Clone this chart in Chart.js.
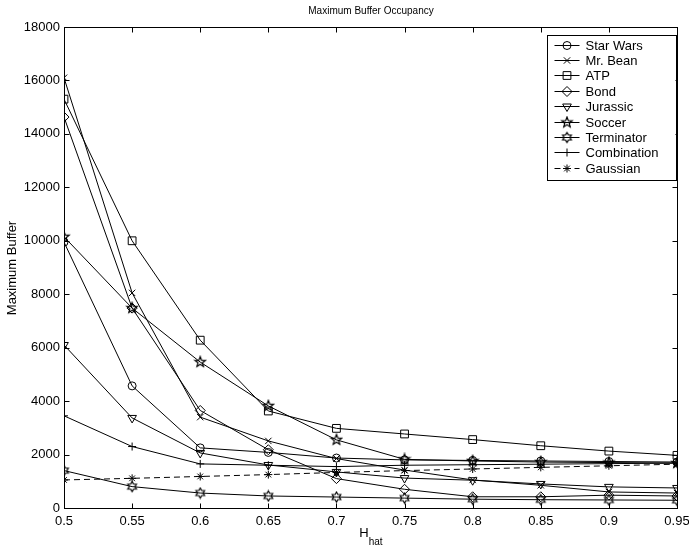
<!DOCTYPE html>
<html>
<head>
<meta charset="utf-8">
<script src="https://cdn.jsdelivr.net/npm/chart.js@4.4.0/dist/chart.umd.min.js"></script>
<style>
  html, body { margin: 0; padding: 0; background: #fff; }
  #wrap { width: 689px; height: 552px; }
</style>
</head>
<body>
<div id="wrap"><canvas id="chart"></canvas></div>
<script>
const hValues = [0.5, 0.55, 0.6, 0.65, 0.7, 0.75, 0.8, 0.85, 0.9, 0.95];
const xTickLabels = ['0.5', '0.55', '0.6', '0.65', '0.7', '0.75', '0.8', '0.85', '0.9', '0.95'];
const yTickValues = [0, 2000, 4000, 6000, 8000, 10000, 12000, 14000, 16000, 18000];
const yTickLabels = ['0', '2000', '4000', '6000', '8000', '10000', '12000', '14000', '16000', '18000'];

const seriesNames = ['Star Wars', 'Mr. Bean', 'ATP', 'Bond', 'Jurassic', 'Soccer', 'Terminator', 'Combination', 'Gaussian'];

const starWars    = [9950, 4570, 2250, 2080, 1870, 1800, 1780, 1760, 1740, 1720];
const mrBean      = [16100, 8050, 3400, 2510, 1850, 1420, 1050, 850, 600, 560];
const atp         = [15300, 10000, 6280, 3630, 2980, 2770, 2560, 2330, 2130, 1970];
const bond        = [14630, 7480, 3650, 2180, 1100, 700, 420, 420, 480, 450];
const jurassic    = [6100, 3370, 2060, 1610, 1350, 1120, 1040, 900, 790, 750];
const soccer      = [10150, 7480, 5460, 3820, 2550, 1820, 1760, 1720, 1700, 1680];
const terminator  = [1400, 800, 560, 450, 410, 370, 330, 310, 300, 290];
const combination = [3450, 2300, 1650, 1600, 1550, 1600, 1620, 1640, 1660, 1680];
const gaussian    = [1050, 1110, 1180, 1250, 1330, 1400, 1460, 1520, 1580, 1640];

const seriesValues = [starWars, mrBean, atp, bond, jurassic, soccer, terminator, combination, gaussian];

// outline star markers (matlab 'p' and 'h')
function starMarker(points, r, inner) {
  const size = Math.ceil(r * 2 + 3);
  const c = document.createElement('canvas');
  c.width = size; c.height = size;
  const g = c.getContext('2d');
  const cx = size / 2, cy = size / 2;
  g.beginPath();
  for (let i = 0; i < points * 2; i++) {
    const rad = i % 2 === 0 ? r : r * inner;
    const ang = -Math.PI / 2 + i * Math.PI / points;
    const px = cx + rad * Math.cos(ang), py = cy + rad * Math.sin(ang);
    if (i === 0) g.moveTo(px, py); else g.lineTo(px, py);
  }
  g.closePath();
  g.strokeStyle = '#000';
  g.lineWidth = 1.2;
  g.stroke();
  return c;
}

const pentagram = starMarker(5, 5.5, 0.42);
const hexagram = starMarker(6, 5, 0.58);

const markers = [
  { style: 'circle', radius: 4, rotation: 0 },
  { style: 'crossRot', radius: 4.5, rotation: 0 },
  { style: 'rect', radius: 5.5, rotation: 0 },
  { style: 'rectRot', radius: 5, rotation: 0 },
  { style: 'triangle', radius: 5, rotation: 180 },
  { style: pentagram, radius: 5, rotation: 0 },
  { style: hexagram, radius: 5, rotation: 0 },
  { style: 'cross', radius: 4, rotation: 0 },
  { style: 'star', radius: 4, rotation: 0 }
];

const datasets = seriesNames.map((name, i) => ({
  label: name,
  data: seriesValues[i].map((v, j) => ({ x: hValues[j], y: v })),
  borderColor: '#000',
  borderWidth: 1,
  borderDash: name === 'Gaussian' ? [6, 4] : [],
  backgroundColor: 'rgba(0,0,0,0)',
  pointStyle: markers[i].style,
  pointRadius: markers[i].radius,
  pointRotation: markers[i].rotation,
  pointBorderColor: '#000',
  pointBackgroundColor: 'rgba(0,0,0,0)',
  pointBorderWidth: 1,
  tension: 0
}));

const font = '"Liberation Sans", Arial, Helvetica, sans-serif';

const decorations = {
  id: 'decorations',
  afterDraw(chart) {
    const { ctx, chartArea: a, scales: { x, y } } = chart;
    const L = Math.round(a.left) + 0.5, R = Math.round(a.right) + 0.5;
    const T = Math.round(a.top) + 0.5, B = Math.round(a.bottom) + 0.5;
    ctx.save();
    ctx.strokeStyle = '#000';
    ctx.lineWidth = 1;
    ctx.setLineDash([]);
    ctx.strokeRect(L, T, R - L, B - T);

    // inward ticks
    ctx.beginPath();
    hValues.forEach(v => {
      const px = Math.round(x.getPixelForValue(v)) + 0.5;
      ctx.moveTo(px, B); ctx.lineTo(px, B - 5);
      ctx.moveTo(px, T); ctx.lineTo(px, T + 5);
    });
    yTickValues.forEach(v => {
      const py = Math.round(y.getPixelForValue(v)) + 0.5;
      ctx.moveTo(L, py); ctx.lineTo(L + 5, py);
      ctx.moveTo(R, py); ctx.lineTo(R - 5, py);
    });
    ctx.stroke();

    // titles
    ctx.fillStyle = '#000';
    ctx.textAlign = 'center';
    ctx.textBaseline = 'middle';
    ctx.font = '10px ' + font;
    ctx.fillText('Maximum Buffer Occupancy', (L + R) / 2, 11);

    ctx.save();
    ctx.translate(12, (T + B) / 2);
    ctx.rotate(-Math.PI / 2);
    ctx.font = '13px ' + font;
    ctx.fillText('Maximum Buffer', 0, 0);
    ctx.restore();

    ctx.textAlign = 'left';
    ctx.font = '13px ' + font;
    const hw = ctx.measureText('H').width;
    ctx.font = '10px ' + font;
    const sw = ctx.measureText('hat').width;
    const sx = (L + R) / 2 - (hw + sw) / 2;
    ctx.font = '13px ' + font;
    ctx.fillText('H', sx, 533);
    ctx.font = '10px ' + font;
    ctx.fillText('hat', sx + hw, 542);

    // legend box
    const bw = 129, bh = 145;
    const bx = R - 2 - bw, by = T + 7;
    ctx.fillStyle = '#fff';
    ctx.fillRect(bx, by, bw, bh);
    ctx.strokeRect(Math.round(bx) + 0.5, Math.round(by) + 0.5, bw, bh);
    const rowH = 15.4;
    chart.data.datasets.forEach((ds, i) => {
      const ry = Math.round(by + 10 + i * rowH) + 0.5;
      ctx.beginPath();
      ctx.setLineDash(ds.borderDash);
      ctx.moveTo(bx + 8, ry); ctx.lineTo(bx + 33, ry);
      ctx.stroke();
      ctx.setLineDash([]);
      ctx.fillStyle = 'rgba(0,0,0,0)';
      Chart.helpers.drawPoint(ctx, {
        pointStyle: ds.pointStyle, radius: ds.pointRadius,
        rotation: ds.pointRotation, borderWidth: 1
      }, bx + 20.5, ry);
      ctx.fillStyle = '#000';
      ctx.font = '13px ' + font;
      ctx.textAlign = 'left';
      ctx.textBaseline = 'middle';
      ctx.fillText(ds.label, bx + 39, ry + 0.5);
    });
    ctx.restore();
  }
};

new Chart(document.getElementById('chart'), {
  type: 'line',
  data: { datasets: datasets },
  options: {
    responsive: true,
    maintainAspectRatio: false,
    animation: false,
    layout: { padding: { top: 27, right: 12, left: 0, bottom: 0 } },
    plugins: { legend: { display: false }, tooltip: { enabled: false } },
    scales: {
      x: {
        type: 'linear',
        min: 0.5, max: 0.95,
        afterBuildTicks: s => { s.ticks = hValues.map(v => ({ value: v })); },
        afterFit: s => { s.height = 44; s.paddingLeft = 0; s.paddingRight = 0; },
        grid: { display: false, drawTicks: false },
        border: { display: false },
        ticks: {
          color: '#000', font: { size: 13, family: font }, padding: 6,
          maxRotation: 0, autoSkip: false,
          callback: (v, i) => xTickLabels[i]
        }
      },
      y: {
        type: 'linear',
        min: 0, max: 18000,
        afterBuildTicks: s => { s.ticks = yTickValues.map(v => ({ value: v })); },
        afterFit: s => { s.width = 64; s.paddingTop = 0; s.paddingBottom = 0; },
        grid: { display: false, drawTicks: false },
        border: { display: false },
        ticks: {
          color: '#000', font: { size: 13, family: font }, padding: 4,
          autoSkip: false,
          callback: (v, i) => yTickLabels[i]
        }
      }
    }
  },
  plugins: [decorations]
});
</script>
</body>
</html>
